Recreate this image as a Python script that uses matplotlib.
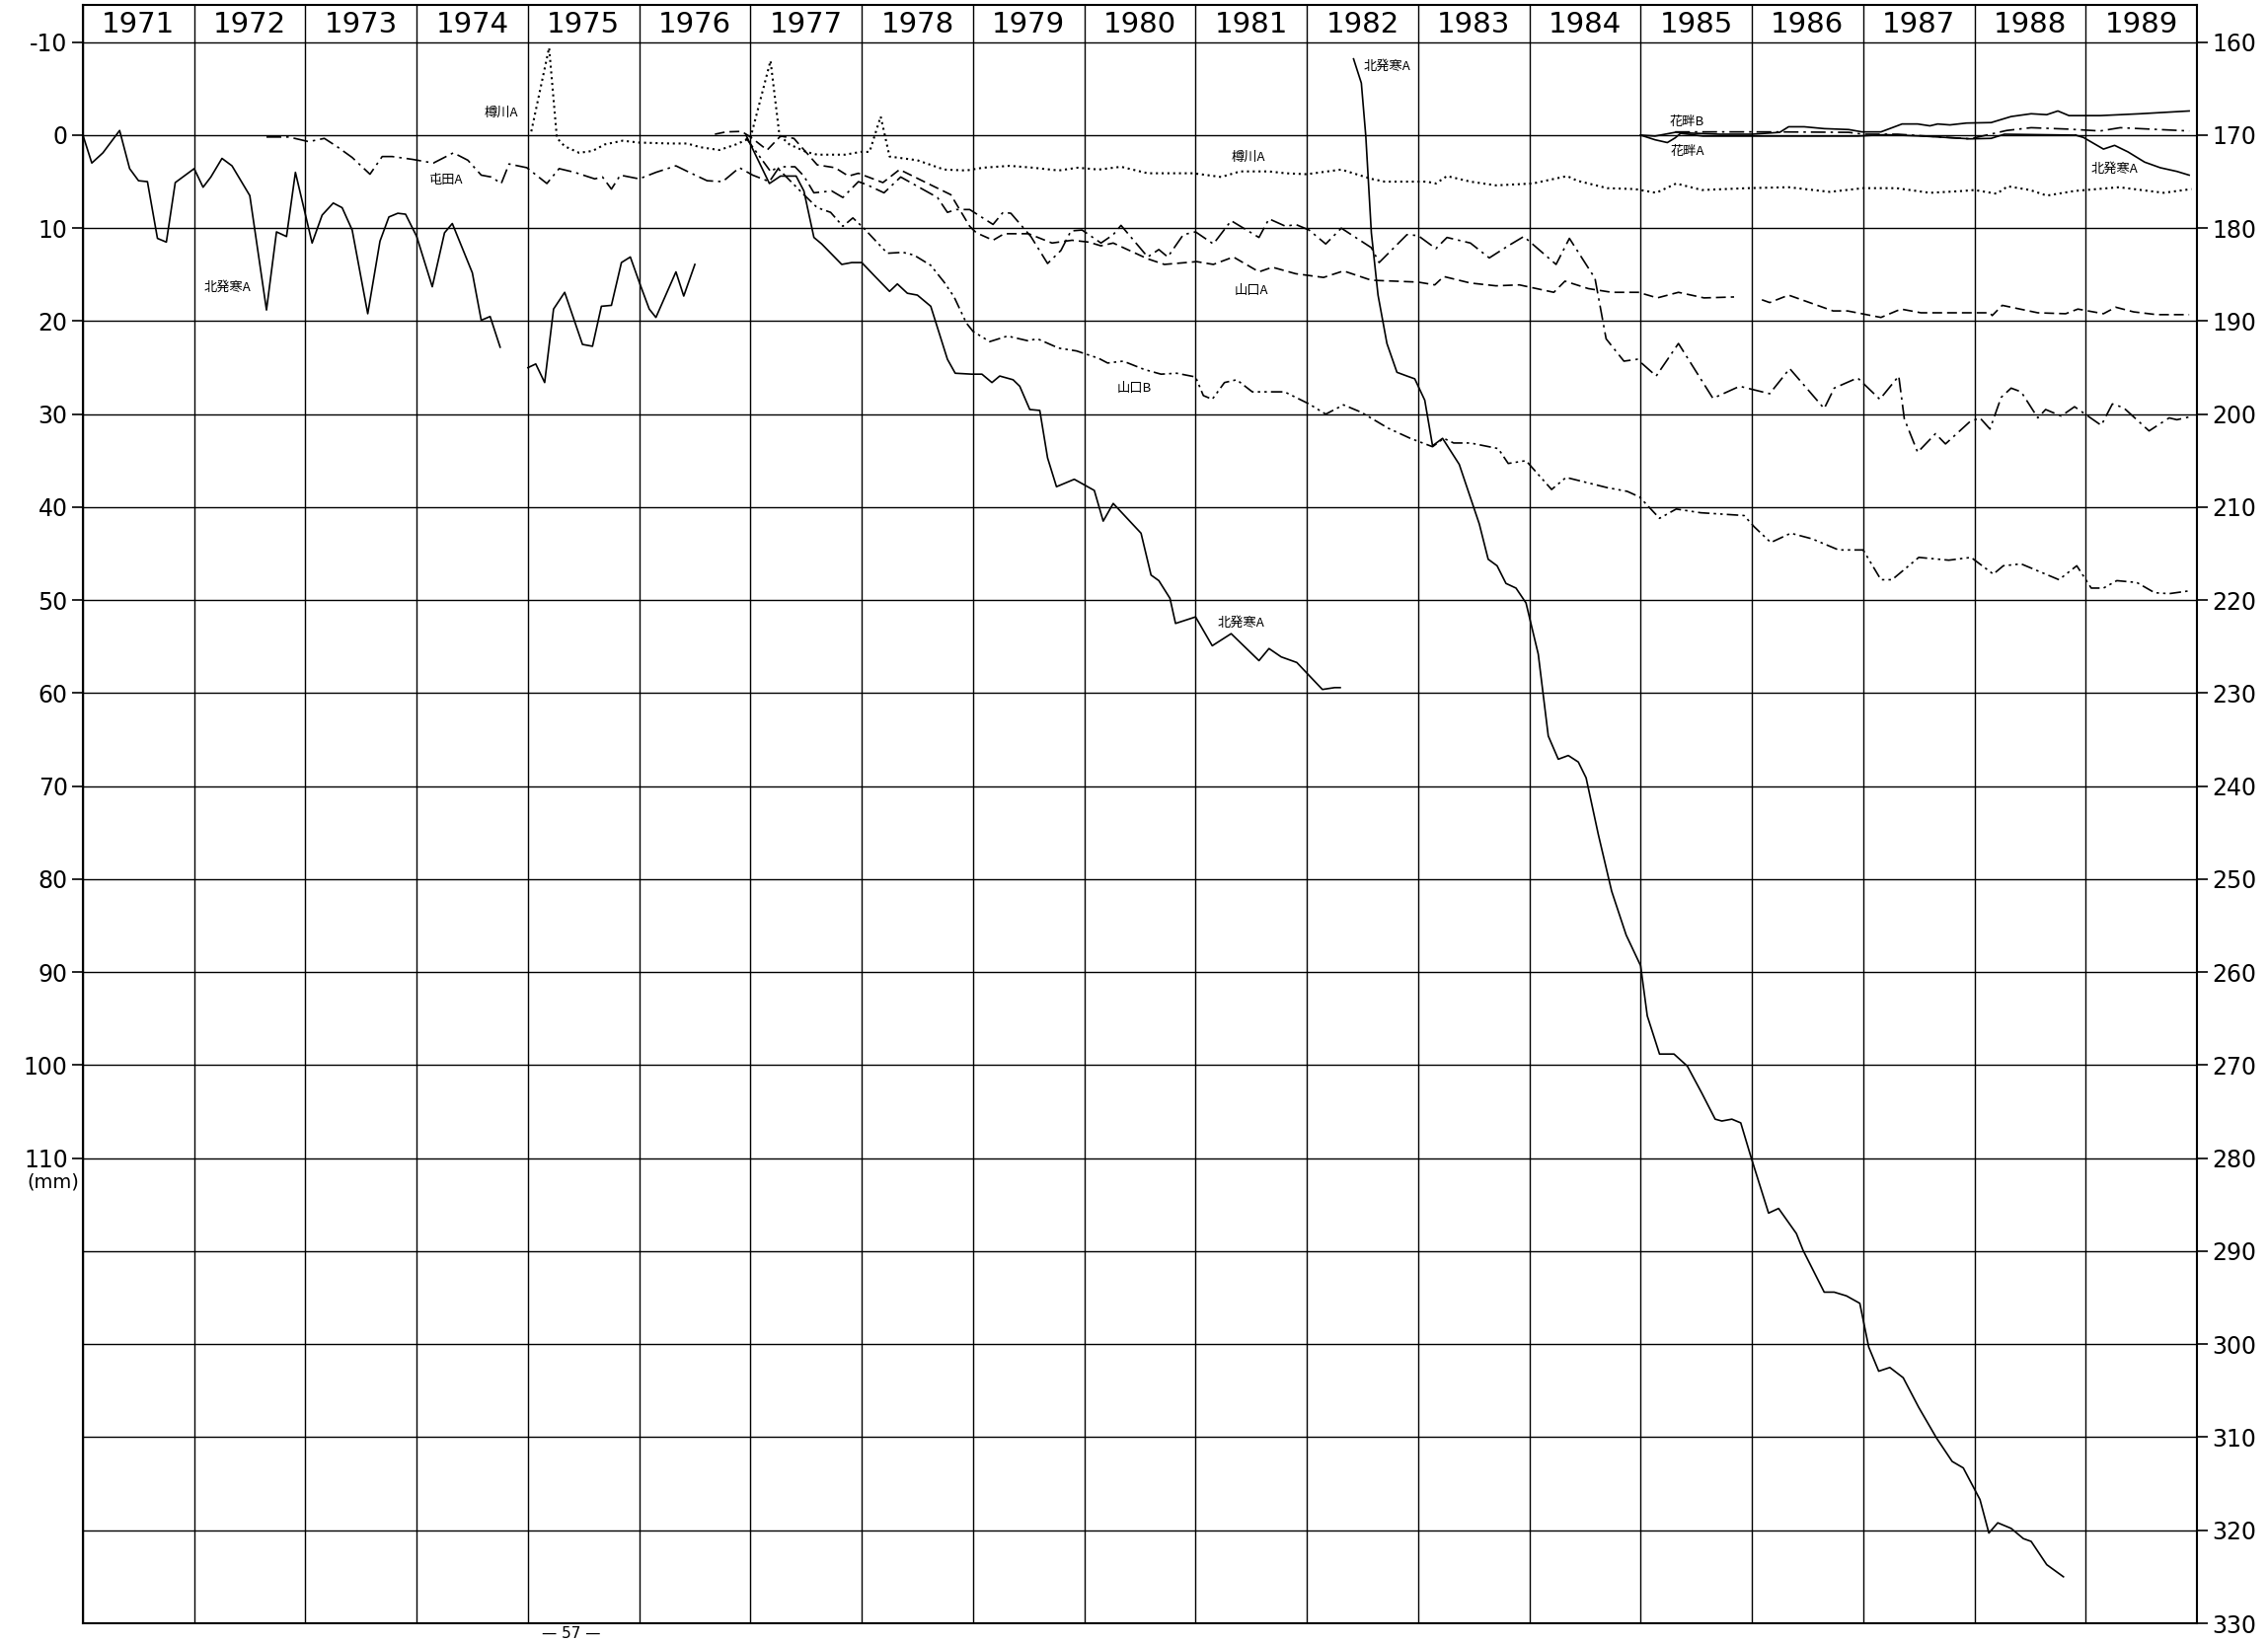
# -*- coding: utf-8 -*-
import matplotlib
matplotlib.use('Agg')
import matplotlib.pyplot as plt

plt.rcParams['font.family'] = ['Noto Sans CJK JP', 'DejaVu Sans']

# ---- data (x: year, y: mm, positive = settlement downward) ----
years = list(range(1971, 1990))
left_ticks = list(range(-10, 111, 10))
left_labels = ['-10', '0', '10', '20', '30', '40', '50', '60', '70', '80', '90', '100', '110']
right_ticks = list(range(-10, 161, 10))
right_labels = [str(v) for v in range(160, 331, 10)]

# 北発寒A (solid, several pieces)
kita1_x = [1971.0, 1971.08, 1971.18, 1971.33, 1971.42, 1971.5, 1971.58, 1971.67, 1971.75, 1971.83,
           1972.0, 1972.08, 1972.15, 1972.25, 1972.34, 1972.5, 1972.65, 1972.74, 1972.83, 1972.91,
           1973.06, 1973.15, 1973.25, 1973.33, 1973.42, 1973.56, 1973.67, 1973.75, 1973.83, 1973.9,
           1974.0, 1974.14, 1974.25, 1974.32, 1974.5, 1974.58, 1974.66, 1974.75]
kita1_y = [0.0, 3.0, 1.9, -0.5, 3.6, 4.9, 5.0, 11.1, 11.5, 5.1,
           3.6, 5.6, 4.5, 2.5, 3.3, 6.5, 18.8, 10.4, 10.9, 4.0,
           11.6, 8.6, 7.3, 7.8, 10.2, 19.2, 11.4, 8.8, 8.4, 8.5,
           10.9, 16.3, 10.5, 9.5, 14.8, 19.9, 19.5, 22.8]

kita2_x = [1975.0, 1975.07, 1975.15, 1975.23, 1975.33, 1975.49, 1975.58, 1975.66, 1975.75, 1975.84,
           1975.92, 1976.0, 1976.09, 1976.15, 1976.33, 1976.4, 1976.5]
kita2_y = [25.0, 24.6, 26.6, 18.7, 16.9, 22.5, 22.7, 18.4, 18.3, 13.7,
           13.1, 15.8, 18.7, 19.6, 14.7, 17.3, 13.9]

kita3_x = [1976.96, 1977.17, 1977.27, 1977.41, 1977.48, 1977.57, 1977.64, 1977.82, 1977.91, 1978.0,
           1978.12, 1978.25, 1978.32, 1978.41, 1978.5, 1978.62, 1978.77, 1978.84, 1978.99, 1979.08,
           1979.17, 1979.24, 1979.36, 1979.42, 1979.51, 1979.6, 1979.67, 1979.75, 1979.91, 1980.09,
           1980.17, 1980.26, 1980.51, 1980.6, 1980.67, 1980.77, 1980.82, 1981.0, 1981.15, 1981.32,
           1981.57, 1981.66, 1981.77, 1981.91, 1982.14, 1982.25, 1982.3]
kita3_y = [0.0, 5.2, 4.4, 4.4, 6.0, 11.0, 11.7, 13.9, 13.7, 13.7,
           15.2, 16.8, 16.0, 17.0, 17.2, 18.4, 24.1, 25.6, 25.7, 25.7,
           26.6, 25.9, 26.3, 27.0, 29.5, 29.6, 34.7, 37.8, 37.0, 38.2,
           41.5, 39.6, 42.8, 47.3, 47.9, 49.8, 52.5, 51.8, 54.9, 53.6,
           56.5, 55.2, 56.1, 56.7, 59.6, 59.4, 59.4]

kita4_x = [1982.42, 1982.49, 1982.53, 1982.58, 1982.64, 1982.72, 1982.81, 1982.9, 1982.97, 1983.06,
           1983.13, 1983.22, 1983.37, 1983.55, 1983.63, 1983.71, 1983.79, 1983.88, 1983.97, 1984.08,
           1984.17, 1984.26, 1984.35, 1984.44, 1984.51, 1984.62, 1984.74, 1984.87, 1985.0, 1985.06,
           1985.17, 1985.3, 1985.42, 1985.55, 1985.67, 1985.73, 1985.82, 1985.9, 1985.99, 1986.15,
           1986.24, 1986.4, 1986.46, 1986.65, 1986.74, 1986.85, 1986.97, 1987.05, 1987.14, 1987.24,
           1987.36, 1987.5, 1987.66, 1987.8, 1987.9, 1988.05, 1988.13, 1988.21, 1988.33, 1988.44,
           1988.51, 1988.65, 1988.8]
kita4_y = [-8.2, -5.6, 0.1, 10.5, 17.2, 22.4, 25.5, 25.9, 26.2, 28.5,
           33.4, 32.6, 35.4, 41.8, 45.6, 46.3, 48.2, 48.7, 50.3, 55.8,
           64.6, 67.1, 66.7, 67.4, 69.1, 75.2, 81.3, 86.0, 89.3, 94.7,
           98.8, 98.8, 100.1, 103.0, 105.8, 106.0, 105.8, 106.2, 109.8, 115.9,
           115.4, 118.1, 119.9, 124.4, 124.4, 124.8, 125.6, 130.3, 132.9, 132.5,
           133.6, 136.8, 140.1, 142.6, 143.3, 146.7, 150.3, 149.2, 149.8, 150.9,
           151.2, 153.7, 155.0]

kita5_x = [1988.91, 1988.98, 1989.16, 1989.26, 1989.38, 1989.53, 1989.67, 1989.82, 1989.93]
kita5_y = [0.0, 0.25, 1.5, 1.1, 1.8, 2.9, 3.5, 3.9, 4.3]

# 樽川A (dotted)
taru_x = [1975.03, 1975.19, 1975.26, 1975.33, 1975.46, 1975.58, 1975.69, 1975.85,
          1976.0, 1976.28, 1976.43, 1976.55, 1976.72, 1976.87,
          1977.0, 1977.18, 1977.26, 1977.35, 1977.5, 1977.6, 1977.85, 1977.99,
          1978.07, 1978.17, 1978.25, 1978.5, 1978.74, 1978.94,
          1979.09, 1979.33, 1979.54, 1979.77, 1979.94,
          1980.13, 1980.33, 1980.57, 1980.98,
          1981.23, 1981.4, 1981.66, 1981.81,
          1982.0, 1982.31, 1982.58, 1982.7,
          1983.08, 1983.16, 1983.26, 1983.47, 1983.7,
          1984.03, 1984.34, 1984.43, 1984.7, 1984.95,
          1985.14, 1985.32, 1985.55, 1985.96,
          1986.33, 1986.7,
          1987.0, 1987.3, 1987.6, 1987.9,
          1988.0, 1988.2, 1988.3, 1988.5, 1988.65, 1988.9,
          1989.0, 1989.3, 1989.5, 1989.7, 1989.95]
taru_y = [-0.4, -9.4, 0.3, 1.2, 1.9, 1.7, 1.0, 0.6,
          0.8, 0.9, 0.9, 1.3, 1.6, 1.0,
          0.3, -8.0, 0.0, 1.0, 1.8, 2.1, 2.1, 1.8,
          1.8, -2.0, 2.3, 2.7, 3.7, 3.8,
          3.5, 3.3, 3.5, 3.8, 3.5,
          3.7, 3.4, 4.1, 4.1,
          4.5, 3.9, 3.9, 4.1,
          4.2, 3.7, 4.7, 5.0,
          5.0, 5.2, 4.4, 5.0, 5.4,
          5.2, 4.4, 4.9, 5.7, 5.8,
          6.2, 5.2, 5.9, 5.7,
          5.6, 6.1,
          5.7, 5.7, 6.2, 6.0,
          5.9, 6.3, 5.5, 5.9, 6.5, 6.0,
          5.9, 5.6, 5.9, 6.2, 5.8]

# 山口A (dashed)
yamaA1_x = [1976.68, 1976.78, 1976.92, 1977.0, 1977.15, 1977.27, 1977.39, 1977.6, 1977.76, 1977.88,
            1977.97, 1978.19, 1978.34, 1978.56, 1978.8, 1978.85, 1978.97, 1979.03, 1979.18, 1979.28,
            1979.5, 1979.71, 1979.89, 1980.04, 1980.15, 1980.26, 1980.57, 1980.72, 1981.01, 1981.16,
            1981.34, 1981.57, 1981.69, 1981.9, 1982.15, 1982.33, 1982.58, 1983.0, 1983.15, 1983.23,
            1983.47, 1983.7, 1983.91, 1984.22, 1984.32, 1984.53, 1984.74, 1984.98, 1985.15, 1985.34,
            1985.57, 1985.84]
yamaA1_y = [-0.1, -0.35, -0.4, 0.2, 1.6, 0.1, 0.35, 3.2, 3.5, 4.4,
            4.1, 5.1, 3.7, 5.0, 6.4, 7.4, 9.8, 10.5, 11.3, 10.6,
            10.6, 11.6, 11.3, 11.5, 11.9, 11.6, 13.3, 13.9, 13.6, 13.9,
            13.1, 14.7, 14.2, 14.9, 15.3, 14.6, 15.6, 15.8, 16.1, 15.2,
            15.9, 16.2, 16.1, 16.9, 15.7, 16.5, 16.9, 16.9, 17.5, 16.9,
            17.5, 17.4]
yamaA2_x = [1986.09, 1986.16, 1986.33, 1986.73, 1986.86, 1987.16, 1987.34, 1987.52, 1988.14, 1988.16,
            1988.25, 1988.57, 1988.82, 1988.93, 1989.16, 1989.27, 1989.43, 1989.64, 1989.93]
yamaA2_y = [17.7, 18.0, 17.2, 18.9, 18.9, 19.6, 18.7, 19.1, 19.1, 19.4,
            18.3, 19.1, 19.2, 18.7, 19.2, 18.5, 19.0, 19.3, 19.3]

# 屯田A (dash-dot)
tonden_x = [1972.65, 1972.85, 1973.03, 1973.17, 1973.28, 1973.42, 1973.58, 1973.69, 1973.78, 1973.96,
            1974.15, 1974.33, 1974.46, 1974.58, 1974.67, 1974.76, 1974.83, 1974.99, 1975.17, 1975.28,
            1975.42, 1975.6, 1975.67, 1975.75, 1975.83, 1976.0, 1976.15, 1976.33, 1976.45, 1976.61,
            1976.75, 1976.9, 1977.02, 1977.17, 1977.26, 1977.4, 1977.48, 1977.57, 1977.73, 1977.83,
            1977.97, 1978.04, 1978.2, 1978.35, 1978.56, 1978.68, 1978.77, 1978.85, 1978.97, 1979.18,
            1979.27, 1979.34, 1979.52, 1979.67, 1979.79, 1979.88, 1979.98, 1980.15, 1980.26, 1980.33,
            1980.57, 1980.67, 1980.75, 1980.89, 1981.0, 1981.16, 1981.32, 1981.57, 1981.66, 1981.81,
            1981.9, 1982.02, 1982.17, 1982.31, 1982.58, 1982.65, 1982.9, 1983.0, 1983.16, 1983.26,
            1983.47, 1983.64, 1983.81, 1983.95, 1984.24, 1984.36, 1984.59, 1984.69, 1984.85, 1984.97,
            1985.14, 1985.34, 1985.65, 1985.89, 1986.16, 1986.34, 1986.65, 1986.74, 1986.95, 1987.15,
            1987.32, 1987.37, 1987.49, 1987.65, 1987.74, 1987.96, 1988.05, 1988.14, 1988.24, 1988.33,
            1988.42, 1988.57, 1988.64, 1988.78, 1988.9, 1989.14, 1989.24, 1989.34, 1989.57, 1989.75,
            1989.82, 1989.93]
tonden_y = [0.2, 0.2, 0.7, 0.35, 1.2, 2.4, 4.2, 2.3, 2.3, 2.6,
            3.0, 1.9, 2.7, 4.3, 4.5, 5.2, 3.1, 3.5, 5.2, 3.6,
            4.0, 4.7, 4.5, 5.8, 4.3, 4.7, 4.0, 3.3, 4.0, 4.9,
            5.0, 3.5, 4.3, 5.0, 3.4, 3.4, 4.4, 6.2, 6.0, 6.7,
            5.0, 5.3, 6.2, 4.5, 5.9, 6.7, 8.3, 8.0, 8.0, 9.6,
            8.3, 8.4, 10.9, 13.8, 12.4, 10.3, 10.2, 11.6, 10.7, 9.7,
            13.1, 12.3, 13.1, 10.7, 10.4, 11.7, 9.2, 11.0, 9.0, 9.8,
            9.6, 10.2, 11.7, 10.0, 12.1, 13.7, 10.7, 10.8, 12.2, 11.0,
            11.6, 13.2, 11.9, 10.9, 13.9, 11.1, 15.4, 21.9, 24.3, 24.1,
            25.9, 22.4, 28.3, 27.0, 27.8, 25.1, 29.4, 27.2, 26.1, 28.4,
            25.9, 30.5, 34.1, 32.1, 33.2, 30.8, 30.4, 31.6, 28.2, 27.2,
            27.6, 30.4, 29.5, 30.2, 29.2, 31.2, 28.9, 29.3, 31.8, 30.4,
            30.6, 30.3]

# 山口B (dash-dot-dot)
yamaB_x = [1976.96, 1977.18, 1977.24, 1977.48, 1977.6, 1977.72, 1977.83, 1977.92,
           1978.01, 1978.12, 1978.23, 1978.37, 1978.47, 1978.62, 1978.74, 1978.83, 1978.94,
           1979.0, 1979.15, 1979.31, 1979.49, 1979.58, 1979.77, 1979.93,
           1980.13, 1980.21, 1980.35, 1980.54, 1980.69, 1980.83,
           1981.0, 1981.07, 1981.15, 1981.26, 1981.37, 1981.51, 1981.8,
           1982.02, 1982.17, 1982.33, 1982.49, 1982.73, 1982.93,
           1983.13, 1983.23, 1983.32, 1983.47, 1983.72, 1983.81, 1983.97,
           1984.2, 1984.33, 1984.7, 1984.88, 1984.99,
           1985.17, 1985.32, 1985.54, 1985.93,
           1986.02, 1986.17, 1986.35, 1986.54, 1986.78,
           1987.0, 1987.16, 1987.26, 1987.5, 1987.77, 1987.97,
           1988.17, 1988.26, 1988.42, 1988.76, 1988.92,
           1989.05, 1989.16, 1989.28, 1989.46, 1989.62, 1989.75, 1989.93]
yamaB_y = [0.3, 3.9, 3.5, 6.4, 7.8, 8.3, 9.8, 8.9,
           9.9, 11.3, 12.7, 12.6, 12.9, 14.0, 15.8, 17.4, 20.2,
           21.1, 22.2, 21.6, 22.1, 21.9, 22.9, 23.2,
           24.0, 24.5, 24.3, 25.2, 25.7, 25.6,
           26.0, 28.0, 28.4, 26.6, 26.3, 27.6, 27.6,
           28.9, 30.0, 29.0, 29.8, 31.5, 32.6,
           33.5, 32.6, 33.1, 33.1, 33.7, 35.3, 35.0,
           38.1, 36.8, 37.9, 38.3, 38.9,
           41.2, 40.2, 40.6, 40.9,
           42.1, 43.8, 42.8, 43.4, 44.6,
           44.6, 47.8, 47.8, 45.4, 45.7, 45.4,
           47.2, 46.3, 46.1, 47.8, 46.3,
           48.7, 48.7, 47.9, 48.1, 49.2, 49.3, 49.0]

# 花畔B / 花畔A
hanaB_x = [1985.0, 1985.13, 1985.31, 1985.49, 1985.71, 1986.0, 1986.25, 1986.33, 1986.47, 1986.65,
           1986.87, 1986.99, 1987.16, 1987.35, 1987.49, 1987.6, 1987.67, 1987.78, 1987.93, 1988.15,
           1988.33, 1988.51, 1988.65, 1988.75, 1988.85, 1989.13, 1989.49, 1989.93]
hanaB_y = [0.0, 0.1, -0.3, -0.2, -0.1, -0.1, -0.3, -0.9, -0.9, -0.7,
           -0.6, -0.35, -0.35, -1.2, -1.2, -1.0, -1.2, -1.1, -1.3, -1.35,
           -2.0, -2.3, -2.2, -2.6, -2.1, -2.1, -2.3, -2.6]
hanaA_x = [1985.0, 1985.13, 1985.24, 1985.31, 1985.36, 1985.56, 1986.0, 1986.95, 1987.2, 1987.53,
           1987.96, 1988.15, 1988.27, 1988.91]
hanaA_y = [0.0, 0.5, 0.8, 0.3, -0.2, 0.1, 0.1, 0.1, -0.05, 0.1,
           0.4, 0.35, -0.1, 0.0]
hanaDD_x = [1985.31, 1986.22, 1986.87, 1987.0, 1987.31, 1987.96, 1988.29, 1988.51, 1988.84, 1989.13,
            1989.31, 1989.93]
hanaDD_y = [-0.35, -0.35, -0.3, -0.1, -0.1, 0.4, -0.5, -0.8, -0.65, -0.45,
            -0.8, -0.45]

# point labels on the chart
label_text = ['樽川A', '屯田A', '北発寒A', '北発寒A', '樽川A', '山口A', '山口B', '北発寒A', '花畔B', '花畔A', '北発寒A']
label_x = [1974.76, 1974.27, 1972.3, 1982.72, 1981.47, 1981.5, 1980.45, 1981.41, 1985.42, 1985.42, 1989.26]
label_y = [-2.4, 4.8, 16.4, -7.4, 2.4, 16.7, 27.2, 52.5, -1.4, 1.8, 3.7]

# ---- plot ----
W, H = 2298, 1664
fig = plt.figure(figsize=(W / 100, H / 100), dpi=100)
ax = fig.add_axes([84 / W, 1 - 1645 / H, (2226 - 84) / W, (1645 - 5) / H])
ax.set_xlim(1971, 1990)
ax.set_ylim(160, -14)

lw = 1.2
solid = dict(color='black', lw=lw, ls='-')
ax.plot(kita1_x, kita1_y, **solid)
ax.plot(kita2_x, kita2_y, **solid)
ax.plot(kita3_x, kita3_y, **solid)
ax.plot(kita4_x, kita4_y, **solid)
ax.plot(kita5_x, kita5_y, **solid)
ax.plot(hanaB_x, hanaB_y, **solid)
ax.plot(hanaA_x, hanaA_y, **solid)
ax.plot(taru_x, taru_y, color='black', lw=1.5, ls=(0, (1, 1.8)))
ax.plot(yamaA1_x, yamaA1_y, color='black', lw=lw, ls=(0, (6, 3)))
ax.plot(yamaA2_x, yamaA2_y, color='black', lw=lw, ls=(0, (6, 3)))
ax.plot(tonden_x, tonden_y, color='black', lw=lw, ls=(0, (9, 3, 1.5, 3)))
ax.plot(yamaB_x, yamaB_y, color='black', lw=lw, ls=(0, (7, 2.5, 1.5, 2.5, 1.5, 2.5)))
ax.plot(hanaDD_x, hanaDD_y, color='black', lw=lw, ls=(0, (9, 3, 1.5, 3)))

for t, x, y in zip(label_text, label_x, label_y):
    ax.text(x, y, t, fontsize=9.5, ha='center', va='center',
            family=['Noto Sans CJK JP', 'DejaVu Sans'])

# grid: year columns and 10 mm rows
ax.set_xticks(years + [1990])
ax.tick_params(axis='x', length=0, labelbottom=False)
ax.set_yticks(left_ticks)
ax.set_yticklabels(left_labels, family='DejaVu Sans', fontsize=17)
ax.set_yticks(list(range(120, 161, 10)), minor=True)
ax.tick_params(axis='y', which='major', length=8, width=1.2, direction='out', pad=3)
ax.tick_params(axis='y', which='minor', length=0)
ax.grid(True, which='both', color='black', lw=1.0)
ax.set_axisbelow(True)
for s in ax.spines.values():
    s.set_linewidth(1.5)

# header with year names
for yr in years:
    ax.text(yr + 0.5, -11.9, str(yr), ha='center', va='center', fontsize=21,
            family='DejaVu Sans')

ax2 = ax.twinx()
ax2.set_ylim(160, -14)
ax2.set_yticks(right_ticks)
ax2.set_yticklabels(right_labels, family='DejaVu Sans', fontsize=17)
ax2.tick_params(axis='y', length=8, width=1.2, direction='out', pad=3)
for s in ax2.spines.values():
    s.set_visible(False)

fig.text(0.012, 1 - 1198 / H, '(mm)', fontsize=14, ha='left', va='center', family='DejaVu Sans')
fig.text(579 / W, 0.0005, '— 57 —', fontsize=11, ha='center', va='bottom', family='DejaVu Sans')

fig.savefig('out.png', dpi=100)
